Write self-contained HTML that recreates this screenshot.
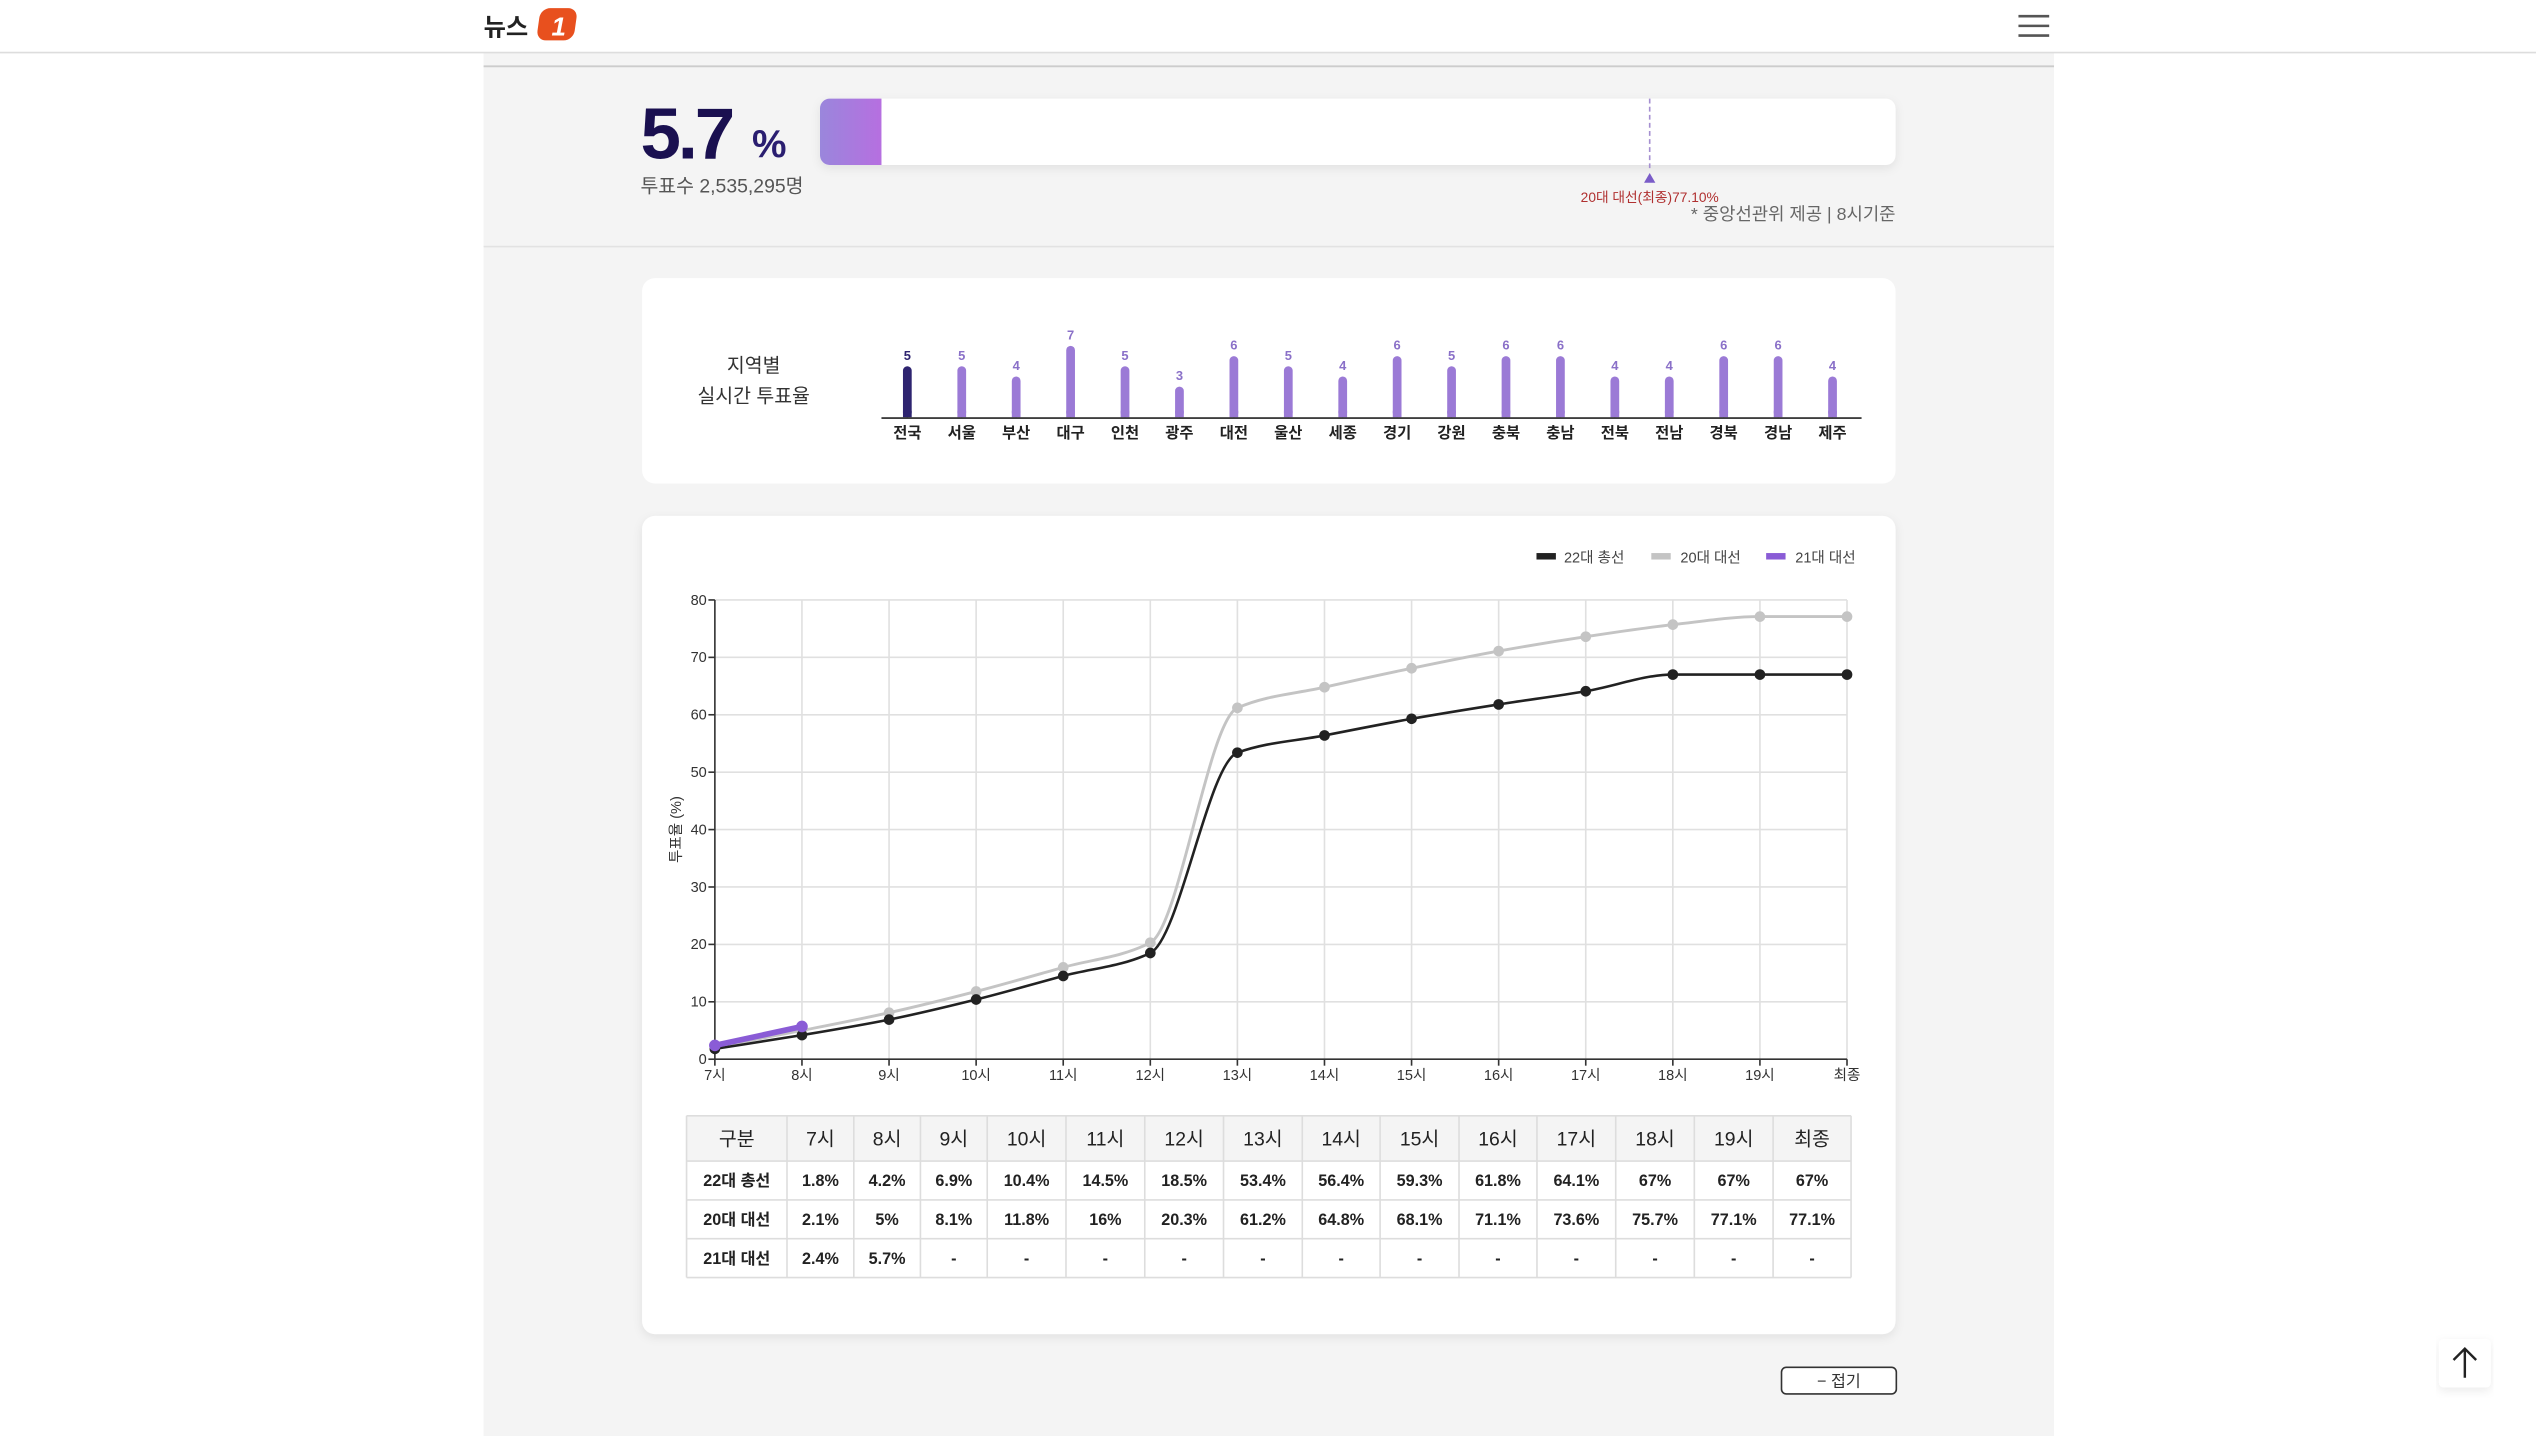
<!DOCTYPE html>
<html><head><meta charset="utf-8"><style>
html,body{margin:0;padding:0;background:#fff;}
svg{display:block;font-family:"Liberation Sans","Noto Sans CJK KR",sans-serif;}
</style></head><body>
<svg id="s" width="2536" height="1436" viewBox="0 0 1568 888" preserveAspectRatio="none" xmlns="http://www.w3.org/2000/svg">
<defs>
<linearGradient id="pg" x1="0" x2="1"><stop offset="0" stop-color="#9a86dc"/><stop offset="1" stop-color="#b66fe0"/></linearGradient>
<filter id="sh" x="-5%" y="-10%" width="110%" height="130%"><feDropShadow dx="0" dy="2" stdDeviation="3" flood-color="#000" flood-opacity="0.08"/></filter>
</defs>
<rect x="0" y="0" width="1568" height="888" fill="#fff"/>
<rect x="299" y="32" width="971" height="856" fill="#f4f4f4"/>
<rect x="0" y="0" width="1568" height="32" fill="#fff"/>
<line x1="0" y1="32.5" x2="1568" y2="32.5" stroke="#ddd"/>
<line x1="299" y1="41" x2="1270" y2="41" stroke="#ccc" stroke-width="1.2"/>
<line x1="299" y1="152.5" x2="1270" y2="152.5" stroke="#e2e2e2"/>
<!-- logo -->
<text x="299" y="22" font-size="15" font-weight="bold" fill="#222">뉴스</text>
<rect x="333" y="5" width="23" height="20" rx="6" fill="#e8501e" transform="skewX(-8) translate(2,0)"/>
<text x="341" y="22" font-size="16" font-weight="bold" fill="#fff" font-style="italic">1</text>
<!-- hamburger -->
<g stroke="#555" stroke-width="1.6"><line x1="1248" y1="10" x2="1267" y2="10"/><line x1="1248" y1="16" x2="1267" y2="16"/><line x1="1248" y1="22" x2="1267" y2="22"/></g>
<!-- top stats -->
<text x="396" y="98" font-size="45" font-weight="bold" fill="#1a1050" letter-spacing="-2">5.7</text>
<text x="465" y="97" font-size="24" font-weight="bold" fill="#2a1e70">%</text>
<text x="396" y="119" font-size="12" fill="#555">투표수 2,535,295명</text>
<rect x="507" y="61" width="665" height="41" rx="6" fill="#fff" filter="url(#sh)"/>
<path d="M513 61 H545 V102 H513 A6 6 0 0 1 507 96 V67 A6 6 0 0 1 513 61Z" fill="url(#pg)"/>
<line x1="1020" y1="61" x2="1020" y2="104" stroke="#a58fd0" stroke-dasharray="3,2"/>
<path d="M1016.5 113 L1020 107 L1023.5 113Z" fill="#7a5cc8"/>
<text x="1020" y="125" font-size="8.5" fill="#b03030" text-anchor="middle">20대 대선(최종)77.10%</text>
<text x="1172" y="136" font-size="11" fill="#666" text-anchor="end">* 중앙선관위 제공 | 8시기준</text>
<!-- card 1 -->
<rect x="397" y="172" width="775" height="127" rx="8" fill="#fff"/>
<text x="466" y="230" font-size="12" fill="#333" text-anchor="middle">지역별</text>
<text x="466" y="249" font-size="12" fill="#333" text-anchor="middle">실시간 투표율</text>
<g id="bars"></g>
<line x1="545" y1="258.5" x2="1151" y2="258.5" stroke="#222" stroke-width="1"/>
<!-- card 2 -->
<rect x="397" y="319" width="775" height="506" rx="8" fill="#fff" filter="url(#sh)"/>
<rect x="950" y="342" width="12" height="4" fill="#222"/><text x="967" y="348" font-size="9" fill="#444">22대 총선</text>
<rect x="1021" y="342" width="12" height="4" fill="#c4c4c4"/><text x="1039" y="348" font-size="9" fill="#444">20대 대선</text>
<rect x="1092" y="342" width="12" height="4" fill="#8a5cd6"/><text x="1110" y="348" font-size="9" fill="#444">21대 대선</text>
<g id="grid"></g>
<text transform="translate(421,513) rotate(-90)" font-size="9" fill="#333" text-anchor="middle">투표율 (%)</text>
<g id="lines"></g>
<g id="table"></g>
<!-- button -->
<rect x="1101.5" y="845.5" width="71" height="16.5" rx="3" fill="#fff" stroke="#333"/>
<text x="1137" y="857.5" font-size="10" fill="#333" text-anchor="middle">− 접기</text>
<!-- scroll top -->
<rect x="1508" y="828" width="32" height="30" rx="3" fill="#fff" filter="url(#sh)"/>
<path d="M1524 834 V852 M1517 841 L1524 834 L1531 841" stroke="#222" stroke-width="1.5" fill="none"/>
</svg>
<script>
var NS="http://www.w3.org/2000/svg";
function el(p,t,a,txt){var e=document.createElementNS(NS,t);for(var k in a)e.setAttribute(k,a[k]);if(txt!=null)e.textContent=txt;document.getElementById(p).appendChild(e);return e;}
// bars
var regs=["전국","서울","부산","대구","인천","광주","대전","울산","세종","경기","강원","충북","충남","전북","전남","경북","경남","제주"];
var vals=[5,5,4,7,5,3,6,5,4,6,5,6,6,4,4,6,6,4];
for(var i=0;i<18;i++){var x=561+i*33.65,h=vals[i]*6.3,c=i==0?"#2e2470":"#9b7ad6";
el("bars","rect",{x:x-2.7,y:258-h,width:5.4,height:h,rx:2.7,fill:c});
el("bars","rect",{x:x-2.7,y:254,width:5.4,height:4,fill:c});
el("bars","text",{x:x,y:258-h-4,"font-size":8,"font-weight":"bold",fill:i==0?"#2e2470":"#8a70c8","text-anchor":"middle"},vals[i]);
el("bars","text",{x:x,y:271,"font-size":9.5,"font-weight":"bold",fill:"#222","text-anchor":"middle"},regs[i]);}
// grid
var X=function(i){return 442+i*(700/13);},Y=function(v){return 655-v*3.55;};
var hrs=["7시","8시","9시","10시","11시","12시","13시","14시","15시","16시","17시","18시","19시","최종"];
for(var v=10;v<=80;v+=10)el("grid","line",{x1:442,x2:1142,y1:Y(v),y2:Y(v),stroke:"#e0e0e0"});
for(var i=1;i<14;i++)el("grid","line",{x1:X(i),x2:X(i),y1:371,y2:655,stroke:"#e0e0e0"});
el("grid","line",{x1:442,x2:442,y1:371,y2:655,stroke:"#333"});
el("grid","line",{x1:442,x2:1142,y1:655,y2:655,stroke:"#333"});
for(var v=0;v<=80;v+=10){el("grid","line",{x1:438,x2:442,y1:Y(v),y2:Y(v),stroke:"#333"});el("grid","text",{x:437,y:Y(v)+3,"font-size":9,fill:"#333","text-anchor":"end"},v);}
for(var i=0;i<14;i++){el("grid","line",{x1:X(i),x2:X(i),y1:655,y2:659,stroke:"#333"});el("grid","text",{x:X(i),y:668,"font-size":9,fill:"#333","text-anchor":"middle"},hrs[i]);}
// lines
var a=[1.8,4.2,6.9,10.4,14.5,18.5,53.4,56.4,59.3,61.8,64.1,67,67,67];
var b=[2.1,5,8.1,11.8,16,20.3,61.2,64.8,68.1,71.1,73.6,75.7,77.1,77.1];
var c=[2.4,5.7];
function path(d){var p=d.map(function(v,i){return[X(i),Y(v)];});var n=p.length;
var m=[];for(var i=0;i<n;i++){var d0=i>0?(p[i][1]-p[i-1][1])/(p[i][0]-p[i-1][0]):null,d1=i<n-1?(p[i+1][1]-p[i][1])/(p[i+1][0]-p[i][0]):null;
if(d0==null)m.push(d1);else if(d1==null)m.push(d0);else if(d0*d1<=0)m.push(0);else m.push(2/(1/d0+1/d1));}
var s="M"+p[0][0]+" "+p[0][1];for(var i=0;i<n-1;i++){var h=(p[i+1][0]-p[i][0])/3;
s+=" C"+(p[i][0]+h)+" "+(p[i][1]+m[i]*h)+" "+(p[i+1][0]-h)+" "+(p[i+1][1]-m[i+1]*h)+" "+p[i+1][0]+" "+p[i+1][1];}return [s,p];}
function draw(d,col,w,r){var q=path(d);el("lines","path",{d:q[0],stroke:col,"stroke-width":w,fill:"none"});q[1].forEach(function(pt){el("lines","circle",{cx:pt[0],cy:pt[1],r:r,fill:col});});}
draw(b,"#c4c4c4",1.8,3.3);draw(a,"#222",1.6,3.3);draw(c,"#8a5cd6",3.5,3.6);
// table
var cols=[424.5,486.6,527.9,569.1,610.4,659.1,707.8,756.5,805.2,853.3,902.1,950.3,999,1047.6,1096.3,1144.5];
var rows=[690,718,742,766,790];
el("table","rect",{x:424.5,y:690,width:720,height:28,fill:"#f4f4f4"});
var data=[["구분"].concat(hrs),["22대 총선"].concat(a.map(function(v){return v+"%";})),["20대 대선"].concat(b.map(function(v){return v+"%";})),["21대 대선","2.4%","5.7%"].concat(Array(12).fill("-"))];
for(var r=0;r<5;r++)el("table","line",{x1:424.5,x2:1144.5,y1:rows[r],y2:rows[r],stroke:"#ddd"});
for(var k=0;k<16;k++)el("table","line",{x1:cols[k],x2:cols[k],y1:690,y2:790,stroke:"#ddd"});
for(var r=0;r<4;r++)for(var k=0;k<15;k++){var cx=(cols[k]+cols[k+1])/2,cy=(rows[r]+rows[r+1])/2;
el("table","text",{x:cx,y:cy+(r==0?4.5:3.5),"font-size":r==0?12:10,"font-weight":r==0?"normal":"bold",fill:"#222","text-anchor":"middle"},data[r][k]);}
</script>
</body></html>
